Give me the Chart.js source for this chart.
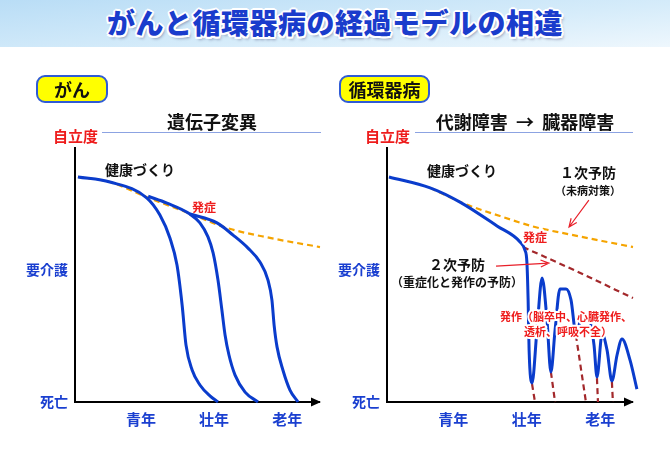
<!DOCTYPE html>
<html lang="ja">
<head>
<meta charset="utf-8">
<title>がんと循環器病の経過モデルの相違</title>
<script src="https://cdn.jsdelivr.net/npm/chart.js@4.4.1/dist/chart.umd.min.js"></script>
<style>
  body { margin: 0; background: #fff; font-family: 'Noto Sans CJK JP', sans-serif; }
  #page { position: relative; width: 670px; height: 473px; overflow: hidden; }
  #band { position: absolute; left: 0; top: 0; width: 670px; height: 47px;
          background: linear-gradient(175deg, #b9ddf6 0%, #d6ecfa 60%, #eef7fd 100%); }
  #title { position: absolute; left: 0; top: 4px; width: 670px; text-align: center;
           font-size: 28px; line-height: 36px; font-weight: 900; color: #1a3ccc; letter-spacing: 0.5px;
           text-shadow: -2px 0 #fff, 2px 0 #fff, 0 -2px #fff, 0 2px #fff,
                        -1.5px -1.5px #fff, 1.5px 1.5px #fff, -1.5px 1.5px #fff, 1.5px -1.5px #fff,
                        2px 3px 3px rgba(0, 0, 60, .35); }
  canvas { position: absolute; left: 0; top: 0; }
  .badge { position: absolute; top: 75px; height: 28px; box-sizing: border-box; border: 2px solid #2f5bd6;
           border-radius: 9px; background: #ffff00; text-align: center; line-height: 24px;
           font-size: 18px; font-weight: 700; color: #111; }
  .head { position: absolute; top: 109px; width: 260px; text-align: center; line-height: 24px;
          font-size: 18px; font-weight: 700; color: #111; white-space: pre; }
  .rule { position: absolute; top: 132px; height: 0; border-top: 1.5px solid #8ca3e2; }
  .level { position: absolute; top: 126px; line-height: 20px; font-size: 15px; font-weight: 700; color: #ee1c1c; }
</style>
</head>
<body>
<div id="page">
  <div id="band"></div>
  <div id="title">がんと循環器病の経過モデルの相違</div>

  <canvas id="cancer" width="670" height="473"></canvas>
  <canvas id="cardio" width="670" height="473"></canvas>

  <div class="badge" style="left:36px;width:72px;">がん</div>
  <div class="badge" style="left:339px;width:91px;">循環器病</div>
  <div class="head" style="left:82px;">遺伝子変異</div>
  <div class="head" style="left:395px;">代謝障害  →  臓器障害</div>
  <div class="rule" style="left:102px;width:219px;"></div>
  <div class="rule" style="left:415px;width:218px;"></div>
  <div class="level" style="left:53px;">自立度</div>
  <div class="level" style="left:365px;">自立度</div>
</div>

<script>
// axis ticks (x = age, y = level of independence)
const ageTicks = [27, 57, 87];
const ageLabels = ['青年', '壮年', '老年'];
const levelTicks = [0, 52];
const levelLabels = ['死亡', '要介護'];

// がん
const cancerHealthy = [[1.2, 88.6], [14.3, 86.6], [29.5, 80.6], [47.1, 74.2], [62.3, 68.5], [79.9, 64.6], [100.4, 61.0]];
const cancerCurve1 = [[1.2, 88.6], [14.3, 86.6], [29.5, 80.3], [34.8, 73.6], [38.9, 64.6], [41.8, 53.9],
                      [43.9, 38.2], [45.5, 22.4], [48.0, 12.6], [51.2, 6.7], [55.3, 2.4], [58.6, 0]];
const cancerCurve2 = [[30.0, 81.0], [37.7, 78.3], [47.1, 74.0], [51.2, 70.5], [54.5, 65.0], [56.6, 58.7],
                      [58.6, 48.0], [60.2, 36.2], [61.5, 26.4], [63.1, 18.5], [65.6, 10.6], [69.7, 3.9], [75.0, 0]];
const cancerCurve3 = [[47.1, 74.0], [58.2, 70.5], [64.8, 65.7], [70.9, 60.6], [75.8, 55.1], [79.1, 48.0],
                      [80.7, 40.2], [81.6, 30.3], [82.8, 21.7], [85.2, 12.6], [88.1, 4.7], [91.4, 0]];

// 循環器病
const cardioHealthy = [[17.6, 84.3], [31.0, 78.3], [46.1, 73.2], [60.4, 68.9], [73.9, 66.1], [87.8, 63.4], [100.4, 61.0]];
const cardioSecondary = [[55.5, 61.0], [78.0, 51.2], [100.4, 40.9]];
const cardioCourse = [[0.8, 88.6], [17.6, 84.3], [29.8, 78.7], [44.9, 69.3], [54.3, 63.0], [56.3, 59.8],
                      [57.1, 55.1], [57.6, 40.2], [58.0, 20.5], [59.2, 7.5], [61.2, 28.3], [63.3, 48.8],
                      [65.3, 32.3], [66.9, 11.8], [68.6, 28.3], [70.6, 44.5], [73.1, 44.5], [75.1, 40.2],
                      [77.1, 27.2], [80.0, 34.6], [82.4, 33.1], [84.5, 22.4], [85.7, 9.8], [87.8, 26.8],
                      [89.8, 20.5], [91.8, 8.3], [93.9, 18.5], [95.9, 24.8], [99.2, 16.5], [102.0, 5.1]];
const attackDrops = [
  [[59.2, 7.1], [60.4, 0]],
  [[66.9, 11.8], [68.6, 0]],
  [[77.1, 26.4], [81.2, 0]],
  [[85.7, 9.4], [86.1, 0]],
  [[91.8, 7.9], [92.2, 0]]
];

const JP = "'Noto Sans CJK JP', sans-serif";
const BLUE = '#0a3ccc';
const ORANGE = '#f5a400';
const DARKRED = '#a3282b';

function pts(arr) {
  return arr.map(p => ({x: p[0], y: p[1]}));
}

function curve(arr) {
  return {data: pts(arr), borderColor: BLUE, borderWidth: 3, order: 1};
}

function dashed(arr, color) {
  return {data: pts(arr), borderColor: color, borderWidth: 2.2, borderDash: [6, 4], order: 5};
}

const overlay = {
  id: 'overlay',
  afterDatasetsDraw(chart, args, opts) {
    const {ctx, chartArea} = chart;
    const x = chart.scales.x, y = chart.scales.y;
    ctx.save();
    // arrow head of the x axis
    const ax = chartArea.right + 2, ay = y.getPixelForValue(0);
    ctx.fillStyle = '#000';
    ctx.beginPath();
    ctx.moveTo(ax, ay);
    ctx.lineTo(ax - 10, ay - 4.5);
    ctx.lineTo(ax - 10, ay + 4.5);
    ctx.closePath();
    ctx.fill();

    (opts.arrows || []).forEach(a => {
      const x1 = x.getPixelForValue(a.from[0]), y1 = y.getPixelForValue(a.from[1]);
      const x2 = x.getPixelForValue(a.to[0]), y2 = y.getPixelForValue(a.to[1]);
      const ang = Math.atan2(y2 - y1, x2 - x1);
      ctx.strokeStyle = '#e8202a';
      ctx.lineWidth = 1.2;
      ctx.beginPath();
      ctx.moveTo(x1, y1);
      ctx.lineTo(x2, y2);
      ctx.moveTo(x2 - 9 * Math.cos(ang - 0.4), y2 - 9 * Math.sin(ang - 0.4));
      ctx.lineTo(x2, y2);
      ctx.lineTo(x2 - 9 * Math.cos(ang + 0.4), y2 - 9 * Math.sin(ang + 0.4));
      ctx.stroke();
    });

    (opts.notes || []).forEach(n => {
      const px = x.getPixelForValue(n.x), py = y.getPixelForValue(n.y);
      ctx.font = 'bold ' + n.size + 'px ' + JP;
      ctx.textAlign = 'center';
      ctx.textBaseline = 'middle';
      if (n.halo) {
        ctx.strokeStyle = '#fff';
        ctx.lineWidth = 4;
        ctx.lineJoin = 'round';
        ctx.strokeText(n.text, px, py);
      }
      ctx.fillStyle = n.color;
      ctx.fillText(n.text, px, py);
    });
    ctx.restore();
  }
};

function makeChart(id, datasets, axisLeft, axisRight, overlayOpts) {
  return new Chart(document.getElementById(id), {
    type: 'scatter',
    data: {datasets: datasets},
    options: {
      responsive: false,
      animation: false,
      events: [],
      clip: false,
      datasets: {
        scatter: {showLine: true, pointRadius: 0, cubicInterpolationMode: 'monotone', fill: false, clip: false}
      },
      layout: {padding: {top: 148, right: 670 - axisRight, left: 0, bottom: 0}},
      scales: {
        x: {
          type: 'linear', min: 0, max: 100,
          grid: {display: false, drawTicks: false},
          border: {display: true, color: '#000', width: 2},
          afterFit: s => { s.height = 71; },
          afterBuildTicks: s => { s.ticks = ageTicks.map(v => ({value: v})); },
          ticks: {
            padding: 8, color: '#1a3fd0', maxRotation: 0,
            font: {family: JP, size: 15, weight: 'bold'},
            callback: v => ageLabels[ageTicks.indexOf(v)]
          }
        },
        y: {
          type: 'linear', min: 0, max: 100,
          grid: {display: false, drawTicks: false},
          border: {display: true, color: '#000', width: 2},
          afterFit: s => { s.width = axisLeft; },
          afterBuildTicks: s => { s.ticks = levelTicks.map(v => ({value: v})); },
          ticks: {
            padding: 7, color: '#1a3fd0',
            font: {family: JP, size: 14, weight: 'bold'},
            callback: v => levelLabels[levelTicks.indexOf(v)]
          }
        }
      },
      plugins: {
        legend: {display: false},
        tooltip: {enabled: false},
        overlay: overlayOpts
      }
    },
    plugins: [overlay]
  });
}

makeChart('cancer', [
  curve(cancerCurve1),
  curve(cancerCurve2),
  curve(cancerCurve3),
  dashed(cancerHealthy, ORANGE)
], 75, 319, {
  notes: [
    {text: '健康づくり', x: 26.6, y: 91.3, size: 14, color: '#111'},
    {text: '発症', x: 52.9, y: 76.6, size: 12, color: '#ee1c1c'}
  ]
});

makeChart('cardio', [
  curve(cardioCourse),
  dashed(cardioHealthy, ORANGE),
  dashed(cardioSecondary, DARKRED)
].concat(attackDrops.map(d => dashed(d, DARKRED))), 387, 632, {
  arrows: [
    {from: [82.4, 79.5], to: [74.3, 68.9]},
    {from: [44.5, 53.5], to: [66.1, 54.7]}
  ],
  notes: [
    {text: '健康づくり', x: 30.6, y: 90.9, size: 14, color: '#111'},
    {text: '１次予防', x: 82.0, y: 90.2, size: 14, color: '#111'},
    {text: '（未病対策）', x: 82.0, y: 83.1, size: 11, color: '#111'},
    {text: '発症', x: 60.4, y: 64.6, size: 12, color: '#ee1c1c', halo: true},
    {text: '２次予防', x: 28.6, y: 53.9, size: 14, color: '#111'},
    {text: '（重症化と発作の予防）', x: 28.6, y: 47.0, size: 12, color: '#111'},
    {text: '発作（脳卒中、心臓発作、', x: 73.1, y: 33.5, size: 11, color: '#ee1c1c', halo: true},
    {text: '透析、呼吸不全）', x: 73.9, y: 27.6, size: 11, color: '#ee1c1c', halo: true}
  ]
});
</script>
</body>
</html>
